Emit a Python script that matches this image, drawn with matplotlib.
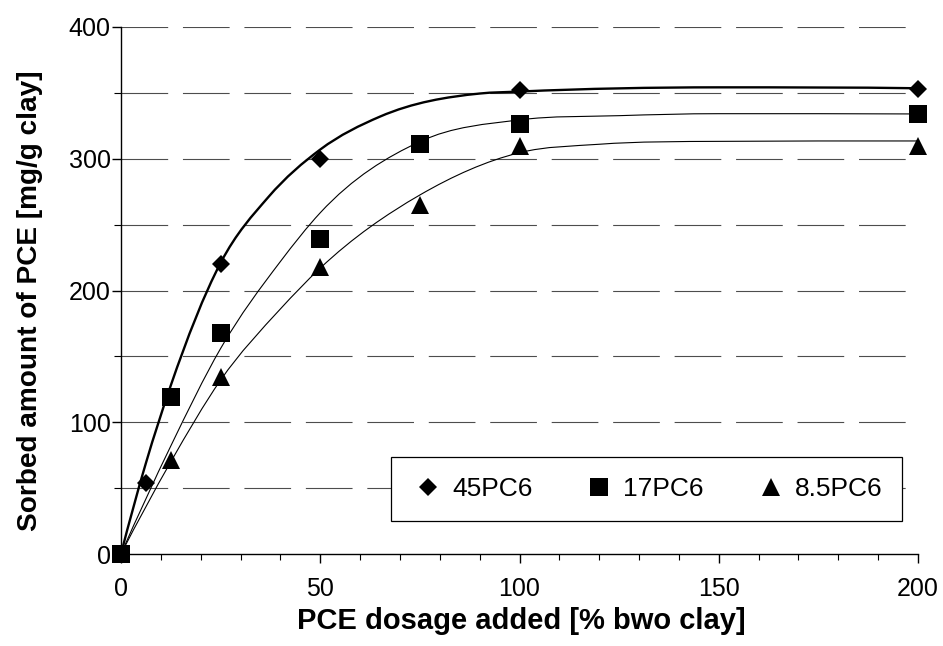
import numpy as np
import matplotlib
matplotlib.use("Agg")
import matplotlib.pyplot as plt
from matplotlib.path import Path
from matplotlib.patches import PathPatch
from matplotlib.ticker import MultipleLocator

plt.rcParams['font.family'] = ['Liberation Sans', 'DejaVu Sans']
plt.rcParams['lines.scale_dashes'] = False

series_names = ["45PC6", "17PC6", "8.5PC6"]

# measured sorbed amounts [mg/g clay] vs. PCE dosage [% bwo clay]
dose_45 = [0, 6.25, 25, 50, 100, 200]
sorbed_45 = [0, 54, 220, 300, 352, 353]
dose_17 = [0, 12.5, 25, 50, 75, 100, 200]
sorbed_17 = [0, 119, 168, 239, 311, 326, 334]
dose_85 = [0, 12.5, 25, 50, 75, 100, 200]
sorbed_85 = [0, 71, 134, 218, 265, 310, 310]

# fitted sorption isotherms (dosage, sorbed amount)
fit_dose_45 = [0, 6.25, 12.5, 25, 37, 50, 65, 90, 100, 150, 200]
fit_sorbed_45 = [0, 69, 128, 221, 271, 307, 332, 349.5, 351, 354.2, 353.5]
fit_dose_17 = [0, 12.5, 25, 40, 50, 75, 100, 125, 150, 200]
fit_sorbed_17 = [0, 82, 156, 222, 259, 313, 329.5, 332.7, 334.2, 334]
fit_dose_85 = [0, 12.5, 25, 40, 50, 75, 100, 120, 150, 200]
fit_sorbed_85 = [0, 70, 132, 186, 217, 272.5, 304.6, 311, 313.2, 313.5]

x_ticks = [0, 50, 100, 150, 200]
y_ticks = [0, 100, 200, 300, 400]


def knot_slopes(x, y):
    """Three-point (parabolic) derivative estimates, flattened at local extrema."""
    h = np.diff(x)
    d = np.diff(y) / h
    n = len(x)
    m = np.zeros(n)
    for k in range(1, n - 1):
        if d[k - 1] * d[k] <= 0:
            m[k] = 0.0
        else:
            s = (h[k] * d[k - 1] + h[k - 1] * d[k]) / (h[k - 1] + h[k])
            lim = 3 * min(abs(d[k - 1]), abs(d[k]))
            m[k] = np.sign(s) * min(abs(s), lim)

    def end_slope(h0, h1, d0, d1):
        s = ((2 * h0 + h1) * d0 - h0 * d1) / (h0 + h1)
        if np.sign(s) != np.sign(d0):
            s = 0.0
        elif np.sign(d0) != np.sign(d1) and abs(s) > abs(3 * d0):
            s = 3 * d0
        return s

    m[0] = end_slope(h[0], h[1], d[0], d[1])
    m[-1] = end_slope(h[-1], h[-2], d[-1], d[-2])
    return m


def smooth_path(xs, ys):
    """Cubic Hermite curve through the knots, expressed as Bezier segments."""
    x = np.asarray(xs, float)
    y = np.asarray(ys, float)
    m = knot_slopes(x, y)
    verts = [(x[0], y[0])]
    codes = [Path.MOVETO]
    for k in range(len(x) - 1):
        h = x[k + 1] - x[k]
        verts += [(x[k] + h / 3, y[k] + m[k] * h / 3),
                  (x[k + 1] - h / 3, y[k + 1] - m[k + 1] * h / 3),
                  (x[k + 1], y[k + 1])]
        codes += [Path.CURVE4] * 3
    return Path(verts, codes)


fig = plt.figure(figsize=(9.43, 6.46), dpi=100)
ax = fig.add_axes([121 / 943, 1 - 554 / 646, 797 / 943, 527 / 646])

ax.set_xlim(0, 200)
ax.set_ylim(0, 400)

# dashed horizontal grid
for yv in np.arange(50, 401, 50):
    ax.axhline(yv, color='#4d4d4d', lw=0.8, linestyle=(0, (33.6, 10.65)), zorder=1)

# fitted curves
for xs, ys, lw in [(fit_dose_45, fit_sorbed_45, 1.7),
                   (fit_dose_17, fit_sorbed_17, 0.8),
                   (fit_dose_85, fit_sorbed_85, 0.8)]:
    ax.add_patch(PathPatch(smooth_path(xs, ys), fill=False, edgecolor='black', lw=lw,
                           zorder=3, capstyle='round', joinstyle='round'))

# measured points
m45, = ax.plot(dose_45, sorbed_45, linestyle='none', marker='D', ms=8.8, color='black',
               mew=0, clip_on=False, zorder=5)
m17, = ax.plot(dose_17, sorbed_17, linestyle='none', marker='s', ms=12.5, color='black',
               mew=0, clip_on=False, zorder=5)
m85, = ax.plot(dose_85, sorbed_85, linestyle='none', marker='^', ms=13.5, color='black',
               mew=0, clip_on=False, zorder=5)

for side in ['top', 'right']:
    ax.spines[side].set_visible(False)
for side in ['left', 'bottom']:
    ax.spines[side].set_linewidth(1.0)
    ax.spines[side].set_zorder(4)

ax.set_xticks(x_ticks)
ax.set_yticks(y_ticks)
ax.xaxis.set_minor_locator(MultipleLocator(10))
ax.yaxis.set_minor_locator(MultipleLocator(50))
ax.tick_params(axis='both', which='major', direction='out', width=1.0, labelsize=18,
               colors='black')
ax.tick_params(axis='x', which='major', length=6.5, pad=10)
ax.tick_params(axis='y', which='major', length=6.5, pad=1.0)
ax.tick_params(axis='x', which='minor', direction='out', length=4.3, width=0.8)
ax.tick_params(axis='y', which='minor', direction='out', length=5.0, width=0.8)

fig.text(521 / 943, 1 - 621 / 646, "PCE dosage added [% bwo clay]", ha='center', va='center',
         fontsize=21, fontweight='bold')
fig.text(30 / 943, 1 - 301 / 646, "Sorbed amount of PCE [mg/g clay]", ha='center',
         va='center', rotation=90, fontsize=20.2, fontweight='bold')

leg = ax.legend([m45, m17, m85], series_names, ncol=3, loc='lower left',
                bbox_to_anchor=(0.3388, 0.0626, 0.6412, 0.129), mode='expand',
                borderaxespad=0, fontsize=19, frameon=True, fancybox=False,
                edgecolor='black', framealpha=1, handlelength=1.3, handletextpad=0.26,
                borderpad=0.75, columnspacing=1.0, numpoints=1)
leg.get_frame().set_linewidth(0.9)
leg.set_zorder(6)

fig.savefig("out.png", dpi=100, facecolor='white')
